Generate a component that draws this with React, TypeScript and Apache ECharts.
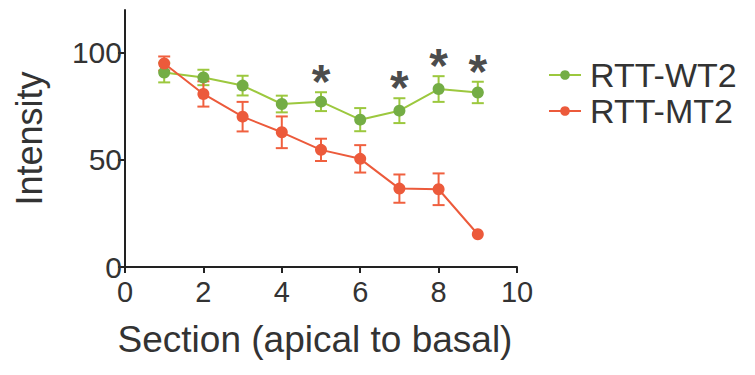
import React, { useEffect, useRef } from "react";
import * as echarts from "echarts";

const sections = [1, 2, 3, 4, 5, 6, 7, 8, 9];
const wtMean = [90.8, 88.5, 84.7, 76.1, 77.2, 68.8, 73.0, 83.1, 81.5];
const wtErr = [4.6, 3.6, 4.6, 3.9, 4.4, 5.4, 5.8, 6.0, 5.0];
const mtMean = [95.0, 80.8, 70.2, 62.9, 54.7, 50.5, 36.6, 36.3, 15.3];
const mtErr = [3.3, 5.9, 6.9, 7.4, 5.2, 6.4, 6.6, 7.4, 0];
const sigSections = [5, 7, 8, 9];
const seriesNames = ["RTT-WT2", "RTT-MT2"];
const yTicks = [0, 50, 100];

const GREEN = "#74ad45";
const GREEN_ERR = "#9cc83e";
const RED = "#ec5a3b";
const RED_ERR = "#f0603f";
const FONT = "'Liberation Sans', Arial, sans-serif";
const TEXT = "#333333";

function errSeries(name: string, mean: number[], err: number[], color: string) {
  return {
    type: "custom",
    name: name + "-err",
    z: 3,
    silent: true,
    data: sections.map((s, i) => [s, mean[i] - err[i], mean[i] + err[i]]),
    renderItem: (params: any, api: any) => {
      const x = api.value(0);
      const lo = api.coord([x, api.value(1)]);
      const hi = api.coord([x, api.value(2)]);
      const hw = 6;
      const style = { stroke: color, lineWidth: 2 };
      if (Math.abs(hi[1] - lo[1]) < 1) return { type: "group", children: [] };
      return {
        type: "group",
        children: [
          { type: "line", shape: { x1: lo[0], y1: lo[1], x2: hi[0], y2: hi[1] }, style },
          { type: "line", shape: { x1: lo[0] - hw, y1: lo[1], x2: lo[0] + hw, y2: lo[1] }, style },
          { type: "line", shape: { x1: hi[0] - hw, y1: hi[1], x2: hi[0] + hw, y2: hi[1] }, style },
        ],
      };
    },
  };
}

export default function App() {
  const ref = useRef<HTMLDivElement>(null);
  useEffect(() => {
    if (!ref.current) return;
    const chart = echarts.init(ref.current, null, { renderer: "svg" });
    const sigData = sigSections.map((s) => {
      const i = sections.indexOf(s);
      return [s, wtMean[i] + wtErr[i] + 9.5];
    });
    chart.setOption({
      animation: false,
      backgroundColor: "#ffffff",
      grid: { left: 125, right: 238, top: 10, bottom: 108, containLabel: false },
      legend: {
        orient: "vertical",
        left: 543,
        top: 53,
        itemGap: 2,
        itemWidth: 32,
        itemHeight: 12,
        data: seriesNames,
        textStyle: { fontFamily: FONT, fontSize: 34, lineHeight: 30, color: TEXT, padding: [0, 0, 0, 4] },
      },
      xAxis: {
        type: "value",
        min: 0,
        max: 10,
        interval: 2,
        name: "Section (apical to basal)",
        nameLocation: "middle",
        nameGap: 54,
        nameTextStyle: { fontFamily: FONT, fontSize: 37, color: TEXT, padding: [0, 12, 0, 0] },
        axisLine: { lineStyle: { color: "#222", width: 2 } },
        axisTick: { show: true, length: 6, lineStyle: { color: "#222", width: 2 } },
        axisLabel: { fontFamily: FONT, fontSize: 29, color: TEXT, margin: 10 },
        splitLine: { show: false },
      },
      yAxis: {
        type: "value",
        min: 0,
        max: 120,
        name: "Intensity",
        nameLocation: "middle",
        nameRotate: 90,
        nameGap: 78,
        nameTextStyle: { fontFamily: FONT, fontSize: 36, color: TEXT },
        axisLine: { show: true, lineStyle: { color: "#222", width: 2 } },
        axisTick: { show: true, length: 7, customValues: yTicks, lineStyle: { color: "#222", width: 2 } },
        axisLabel: { fontFamily: FONT, fontSize: 30, color: TEXT, margin: 3, customValues: yTicks },
        splitLine: { show: false },
      },
      series: [
        errSeries(seriesNames[0], wtMean, wtErr, GREEN_ERR),
        errSeries(seriesNames[1], mtMean, mtErr, RED_ERR),
        {
          type: "line",
          name: seriesNames[0],
          z: 4,
          data: sections.map((s, i) => [s, wtMean[i]]),
          symbol: "circle",
          symbolSize: 12,
          itemStyle: { color: GREEN },
          lineStyle: { color: GREEN_ERR, width: 2 },
        },
        {
          type: "line",
          name: seriesNames[1],
          z: 4,
          data: sections.map((s, i) => [s, mtMean[i]]),
          symbol: "circle",
          symbolSize: 12,
          itemStyle: { color: RED },
          lineStyle: { color: RED, width: 2 },
        },
        {
          type: "scatter",
          name: "sig",
          z: 5,
          silent: true,
          symbolSize: 0,
          data: sigData,
          label: {
            show: true,
            position: "inside",
            formatter: "*",
            fontFamily: FONT,
            fontSize: 48,
            fontWeight: "bold",
            color: "#1a1a1a",
            offset: [0, 10],
          },
        },
      ],
    });
    return () => chart.dispose();
  }, []);
  return <div ref={ref} style={{ width: 755, height: 375, margin: -8 }} />;
}
